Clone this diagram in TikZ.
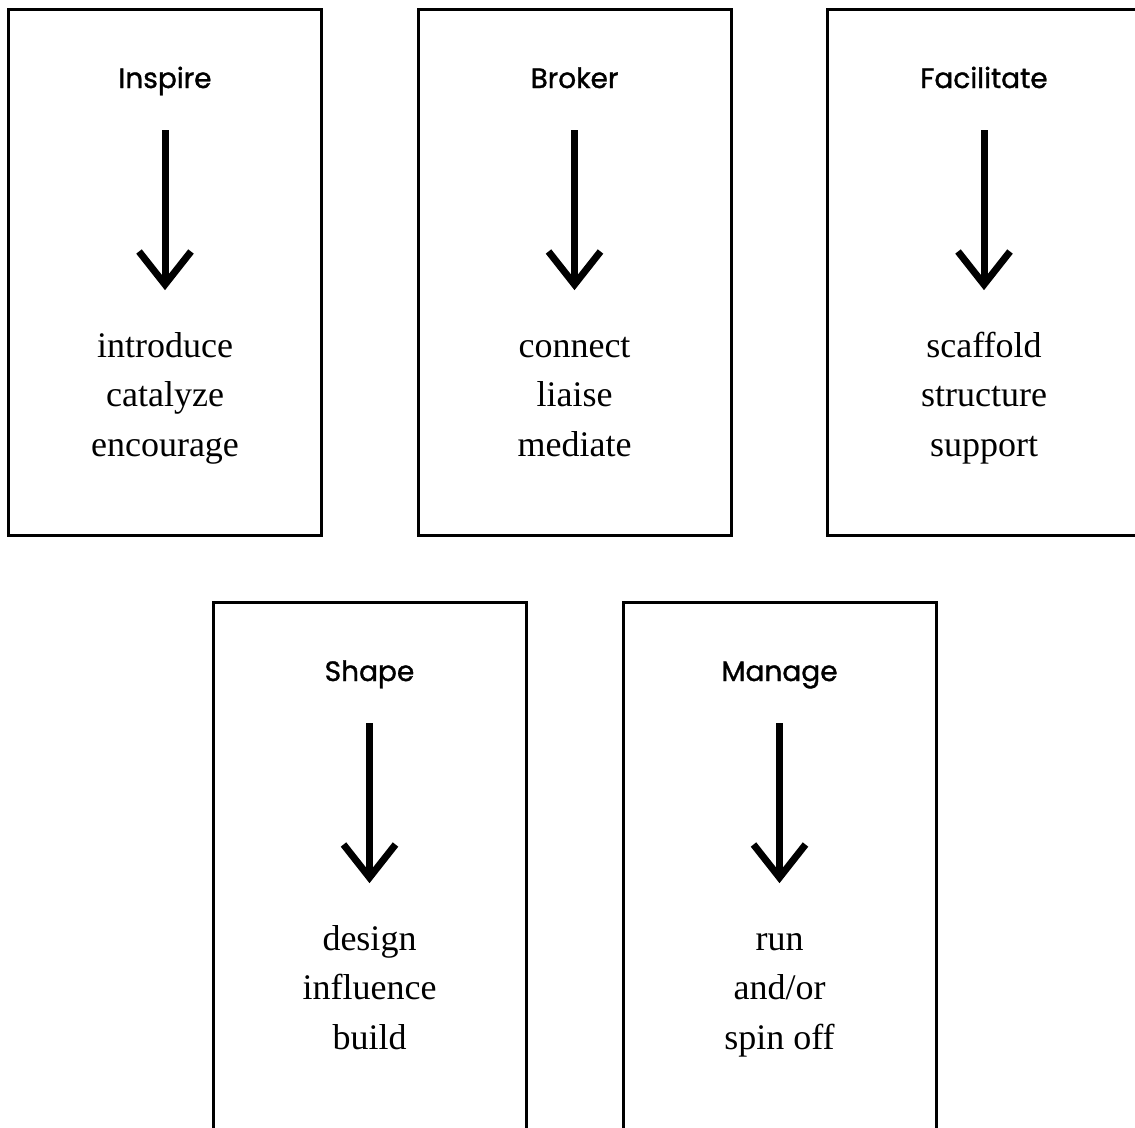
\documentclass[tikz,border=0pt]{standalone}
\usepackage{fontspec}
\setmainfont{Liberation Serif}
\newfontfamily\titlefont{Poppins}[FakeBold=1.2]
\begin{document}
\begin{tikzpicture}[x=1pt,y=-1pt,
  panel/.style={draw=black,line width=3pt,minimum width=313pt,minimum height=526pt,inner sep=0pt,outer sep=0pt},
  ttl/.style={font=\titlefont\fontsize{28}{34}\selectfont,anchor=base,inner sep=0pt},
  wrd/.style={font=\fontsize{36}{44}\selectfont,anchor=base,inner sep=0pt},
  arr/.style={line width=7pt,line join=miter,draw=black}]
\path[use as bounding box] (0,0) rectangle (1135,1127);
\clip (0,0) rectangle (1135,1127);
\newcommand\mypanel[5]{%
  % #1 name, #2 center x, #3 top y, #4 title, #5 box height (number)
  \node[panel,minimum height=#5pt] (#1box) at (#2,#3+#5/2) {};
  \node[ttl] (#1t) at (#2,#3+78.5) {#4};
  \coordinate (#1s) at (#2,#3+120.5);
  \coordinate (#1e) at (#2,#3+275);
  \draw[arr] (#1s) -- (#1e);
  \draw[arr] ([shift={(-26,-33)}]#1e) -- (#1e) -- ([shift={(26,-33)}]#1e);
}
\newcommand\mywords[6]{%
  \node[wrd] (#1w1) at (#2,#3+347.5) {#4};
  \node[wrd] (#1w2) at (#2,#3+396.5) {#5};
  \node[wrd] (#1w3) at (#2,#3+446.5) {#6};
}
\mypanel{a}{165}{9.5}{Inspire}{526}
\mywords{a}{165}{9.5}{introduce}{catalyze}{encourage}
\mypanel{b}{574.5}{9.5}{Broker}{526}
\mywords{b}{574.5}{9.5}{connect}{liaise}{mediate}
\mypanel{c}{984}{9.5}{Facilitate}{526}
\mywords{c}{984}{9.5}{scaffold}{structure}{support}
\mypanel{d}{369.5}{602.5}{Shape}{600}
\mywords{d}{369.5}{602.5}{design}{influence}{build}
\mypanel{e}{779.5}{602.5}{Manage}{600}
\mywords{e}{779.5}{602.5}{run}{and/or}{spin off}
\end{tikzpicture}
\end{document}
